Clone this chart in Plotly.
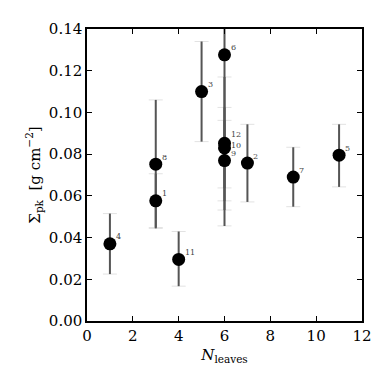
import plotly.graph_objects as go

labels = ['1', '2', '3', '4', '5', '6', '7', '8', '9', '10', '11', '12']
n_leaves = [3, 7, 5, 1, 11, 6, 9, 3, 6, 6, 4, 6]
sigma_pk = [0.0576, 0.0757, 0.110, 0.0370, 0.0795, 0.1276, 0.0690, 0.0752, 0.0769, 0.0830, 0.0295, 0.0852]
err_plus = [0.0130, 0.0186, 0.024, 0.0145, 0.0148, 0.082, 0.0143, 0.0308, 0.0193, 0.0194, 0.0134, 0.0318]
err_minus = [0.0128, 0.0186, 0.024, 0.0145, 0.0152, 0.082, 0.0142, 0.0308, 0.0193, 0.0192, 0.0128, 0.0320]

FONT = 'DejaVu Serif'


def plot():
    fig = go.Figure()

    # thin light caps
    fig.add_trace(go.Scatter(
        x=n_leaves, y=sigma_pk, mode='markers',
        marker=dict(size=1, color='rgba(0,0,0,0)'),
        error_y=dict(type='data', symmetric=False, array=err_plus, arrayminus=err_minus,
                     color='#e2e2e2', thickness=1, width=7),
        showlegend=False, hoverinfo='skip'
    ))

    # dark error bar lines
    fig.add_trace(go.Scatter(
        x=n_leaves, y=sigma_pk, mode='markers',
        marker=dict(size=1, color='rgba(0,0,0,0)'),
        error_y=dict(type='data', symmetric=False, array=err_plus, arrayminus=err_minus,
                     color='#555555', thickness=2, width=0),
        showlegend=False, hoverinfo='skip'
    ))

    fig.add_trace(go.Scatter(
        x=n_leaves, y=sigma_pk, mode='markers',
        marker=dict(size=13, color='black'),
        showlegend=False
    ))

    # small id labels next to each point
    for lab, x, y in zip(labels, n_leaves, sigma_pk):
        yshift = 7
        if lab == '12':
            yshift = 9
        elif lab == '10':
            yshift = 2
        fig.add_annotation(
            x=x, y=y, text=lab, showarrow=False,
            xanchor='left', yanchor='middle', xshift=4, yshift=yshift,
            font=dict(family=FONT, size=8, color='#444444')
        )

    axis_common = dict(
        showgrid=False, zeroline=False, showline=True, mirror='allticks',
        linecolor='black', linewidth=1.5, ticks='inside', ticklen=5,
        tickwidth=1, tickcolor='black',
        tickfont=dict(family=FONT, size=15, color='black'),
    )

    fig.update_layout(
        width=390, height=390,
        margin=dict(l=79, r=36, t=19, b=77),
        paper_bgcolor='white', plot_bgcolor='white',
        xaxis=dict(range=[0, 12], dtick=2, tick0=0,
                   title=dict(text='<i>N</i><sub>leaves</sub>', standoff=6,
                              font=dict(family=FONT, size=15, color='black')),
                   **axis_common),
        yaxis=dict(range=[0, 0.14], dtick=0.02, tick0=0, tickformat='.2f',
                   title=dict(text='Σ<sub>pk</sub>  [g cm<sup>−2</sup>]', standoff=5,
                              font=dict(family=FONT, size=15, color='black')),
                   **axis_common),
    )

    fig.write_html('out.html')


if __name__ == '__main__':
    plot()
